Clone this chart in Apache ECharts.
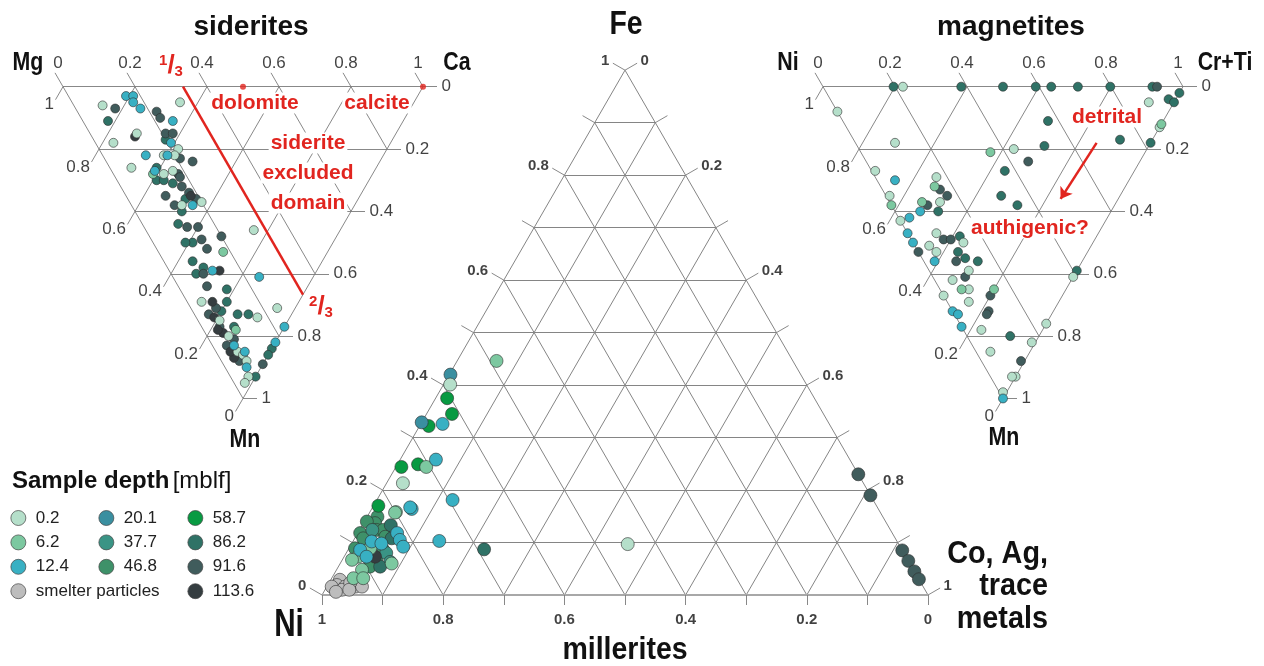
<!DOCTYPE html>
<html><head><meta charset="utf-8">
<script src="https://cdn.jsdelivr.net/npm/echarts@6/dist/echarts.min.js"></script>
<style>html,body{margin:0;padding:0;background:#fff}#c{width:1264px;height:666px}</style>
</head><body><div id="c"></div>
<script>
// ---------------- DATA ----------------
const depthNames = ['0.2','6.2','12.4','20.1','37.7','46.8','58.7','86.2','91.6','113.6','smelter particles'];
const sideTickValues = [0, 0.2, 0.4, 0.6, 0.8, 1];
const centerTickValues = [0, 0.1, 0.2, 0.3, 0.4, 0.5, 0.6, 0.7, 0.8, 0.9, 1];
const centerLabelValues = [0, 0.2, 0.4, 0.6, 0.8, 1];
const sideGridSteps = [0.2, 0.4, 0.6, 0.8];
const centerGridSteps = [0.1, 0.2, 0.3, 0.4, 0.5, 0.6, 0.7, 0.8, 0.9];

// siderites: [Ca, Mn, depth index]  (Mg = 1 - Ca - Mn)
const sideritePoints = [
 [0.16,0.03,2],[0.18,0.03,2],[0.17,0.05,2],[0.18,0.07,2],[0.08,0.06,0],[0.11,0.07,8],[0.07,0.11,7],
 [0.22,0.08,8],[0.22,0.10,8],[0.30,0.05,0],[0.25,0.11,2],[0.13,0.15,0],[0.12,0.16,9],[0.05,0.18,0],
 [0.21,0.15,8],[0.23,0.15,8],[0.20,0.17,7],[0.21,0.18,2],[0.22,0.20,0],[0.20,0.22,0],[0.21,0.23,8],
 [0.24,0.24,8],[0.12,0.22,2],[0.17,0.22,0],[0.18,0.22,2],[0.06,0.26,0],[0.13,0.26,7],[0.12,0.27,2],
 [0.11,0.28,1],[0.14,0.28,0],[0.17,0.27,0],[0.18,0.28,8],[0.18,0.29,8],[0.11,0.30,7],[0.13,0.30,7],
 [0.15,0.31,7],[0.17,0.32,8],[0.18,0.34,8],[0.18,0.35,9],[0.16,0.36,7],[0.19,0.36,8],[0.11,0.35,8],
 [0.12,0.38,8],[0.14,0.38,0],[0.17,0.38,2],[0.20,0.37,0],[0.13,0.40,7],[0.10,0.44,7],[0.12,0.45,8],
 [0.15,0.45,8],[0.14,0.49,8],[0.11,0.50,7],[0.09,0.50,7],[0.14,0.52,8],[0.20,0.48,8],[0.18,0.53,1],
 [0.30,0.46,0],[0.08,0.56,7],[0.10,0.58,7],[0.07,0.60,7],[0.09,0.60,8],[0.12,0.59,2],[0.14,0.59,9],
 [0.08,0.64,8],[0.13,0.65,7],[0.24,0.61,2],[0.04,0.69,0],[0.07,0.69,9],[0.11,0.69,7],[0.07,0.71,8],
 [0.08,0.72,7],[0.12,0.73,7],[0.15,0.73,7],[0.17,0.74,0],[0.24,0.71,0],[0.05,0.74,9],[0.06,0.75,0],
 [0.05,0.77,8],[0.05,0.79,9],[0.09,0.77,7],[0.09,0.78,1],[0.06,0.80,0],[0.07,0.81,8],[0.04,0.78,9],
 [0.06,0.83,2],[0.23,0.77,2],[0.18,0.82,2],[0.16,0.84,7],[0.14,0.86,7],[0.08,0.85,2],[0.06,0.85,0],
 [0.04,0.87,9],[0.07,0.86,0],[0.07,0.88,0],[0.05,0.88,8],[0.06,0.90,2],[0.11,0.89,8],[0.07,0.93,7],
 [0.05,0.93,0],[0.03,0.95,0],[0.04,0.83,8],[0.04,0.85,9],[0.04,0.73,8]
];

// magnetites: [Cr+Ti, Mn, depth index]  (Ni = 1 - CrTi - Mn)
const magnetitePoints = [
 [0.196,0,7],[0.222,0,0],[0.384,0,7],[0.50,0,7],[0.591,0,7],[0.634,0,7],[0.708,0,7],[0.798,0,7],
 [0.915,0,7],[0.928,0,8],[0.98,0.02,7],[0.94,0.04,7],[0.95,0.05,7],[0.88,0.05,0],[0.88,0.12,1],
 [0.87,0.13,0],[0.82,0.18,7],[0.74,0.17,7],[0.57,0.11,7],[0.52,0.19,7],[0.43,0.20,0],[0.36,0.21,1],
 [0.45,0.24,8],[0.37,0.27,7],[0.32,0.35,7],[0.35,0.38,7],[0.00,0.08,0],[0.11,0.18,0],[0.01,0.27,0],
 [0.05,0.30,2],[0.17,0.29,0],[0.15,0.32,1],[0.16,0.33,8],[0.17,0.35,8],[0.01,0.35,0],[0.00,0.38,1],
 [0.09,0.37,1],[0.14,0.37,0],[0.10,0.38,8],[0.12,0.40,7],[0.07,0.40,2],[0.03,0.42,2],[0.00,0.43,0],
 [0.00,0.47,2],[0.00,0.50,2],[0.00,0.53,8],[0.08,0.47,0],[0.09,0.49,8],[0.11,0.49,8],[0.14,0.48,7],
 [0.14,0.50,0],[0.04,0.51,0],[0.05,0.53,0],[0.11,0.53,7],[0.12,0.55,7],[0.09,0.56,8],[0.15,0.56,7],
 [0.03,0.56,2],[0.11,0.59,0],[0.09,0.61,8],[0.05,0.62,0],[0.06,0.65,1],[0.08,0.65,0],[0.06,0.69,0],
 [0.00,0.67,0],[0.00,0.72,2],[0.01,0.73,2],[0.00,0.77,2],[0.15,0.65,1],[0.13,0.67,8],[0.10,0.72,8],
 [0.09,0.73,8],[0.05,0.78,0],[0.12,0.80,7],[0.04,0.85,0],[0.41,0.59,7],[0.39,0.61,0],[0.24,0.76,0],
 [0.17,0.82,0],[0.11,0.88,8],[0.07,0.93,0],[0.06,0.93,0],[0.01,0.98,0],[0.00,1.00,2]
];

// millerites: [Co+Ag+trace, Fe, depth index]  (Ni = 1 - Co - Fe)
const milleritePoints = [
 [0.065,0.446,1],[0.002,0.420,3],[0.011,0.401,0],[0.019,0.375,6],[0.042,0.345,6],[0.000,0.329,3],
 [0.015,0.322,6],[0.036,0.326,2],[0.059,0.258,2],[0.034,0.249,6],[0.050,0.244,1],[0.009,0.244,6],
 [0.027,0.213,0],[0.125,0.181,2],[0.066,0.164,2],[0.043,0.158,1],[0.008,0.170,6],[0.142,0.103,2],
 [0.224,0.087,7],[0.456,0.097,0],[0.017,0.149,5],[0.047,0.133,7],[0.019,0.137,5],[0.028,0.124,5],
 [0.021,0.124,4],[0.004,0.140,5],[0.004,0.118,5],[0.039,0.124,5],[0.049,0.111,5],[0.061,0.108,7],
 [0.014,0.108,5],[0.065,0.118,2],[0.076,0.105,2],[0.088,0.092,2],[0.031,0.102,2],[0.049,0.098,2],
 [0.035,0.089,1],[0.058,0.086,5],[0.020,0.086,2],[0.010,0.089,5],[0.066,0.080,4],[0.037,0.073,2],
 [0.023,0.073,1],[0.016,0.067,1],[0.055,0.070,5],[0.051,0.073,9],[0.081,0.063,4],[0.069,0.054,7],
 [0.052,0.054,5],[0.085,0.060,1],[0.042,0.048,1],[0.036,0.032,1],[0.052,0.032,1],[0.062,0.167,2],
 [0.042,0.157,1],
 [0.015,0.029,10],[0.015,0.019,10],[0.030,0.016,10],[0.047,0.016,10],[0.058,0.016,10],[0.028,0.010,10],
 [0.008,0.016,10],[0.035,0.023,10],[0.040,0.010,10],[0.020,0.006,10],
 [0.77,0.23,8],[0.81,0.19,8],[0.915,0.085,8],[0.935,0.065,8],[0.955,0.045,8],[0.97,0.03,8]
];

// annotations (ternary coordinates)
const sideriteBoundary = [[1/3, 0], [1/3, 2/3]];      // Ca = 1/3 line, [Ca, Mn]
const sideriteRefMinerals = [[0.5, 0], [1, 0]];       // dolomite, calcite [Ca, Mn]
const magnetiteArrow = [[0.67, 0.18], [0.48, 0.36]];  // [CrTi, Mn]

// ---------------- STYLE ----------------
const depthColors = ['#b5dfca','#7cc8a0','#38b0c3','#3a8fa0','#3a9485','#3e9169','#089a42','#2f7266','#405c5c','#353d40','#bdbdbd'];
const RED = '#e1251f';
const SANS = "'Liberation Sans', Arial, sans-serif";
const H = Math.sqrt(3) / 2;
const tri = (c, v) => [c + v / 2, v * H];
const r1 = v => String(Math.round(v * 10) / 10);

const layouts = [
  {ox: 63,  oy: 86.7, s: 360, p: 0.1,  inverse: true},   // siderites
  {ox: 322, oy: 595,  s: 606, p: 0.07, inverse: false},  // millerites
  {ox: 823, oy: 86.7, s: 360, p: 0.1,  inverse: true}    // magnetites
];

const grid = layouts.map(L => ({
  left: L.ox - L.p * L.s, width: (1 + 2 * L.p) * L.s,
  top: L.inverse ? L.oy - L.p * L.s : L.oy - (H + L.p) * L.s,
  height: (H + 2 * L.p) * L.s
}));
const xAxis = layouts.map((L, i) => ({type: 'value', gridIndex: i, min: -L.p, max: 1 + L.p, show: false}));
const yAxis = layouts.map((L, i) => ({type: 'value', gridIndex: i, min: -L.p, max: H + L.p, inverse: L.inverse, show: false}));

const series = [];
function segSeries(i, segs, color, width, z) {
  series.push({type: 'lines', coordinateSystem: 'cartesian2d', xAxisIndex: i, yAxisIndex: i, silent: true, z: z || 1,
    polyline: false, symbol: 'none', lineStyle: {color, width, opacity: 1, type: 'solid'},
    data: segs.map(s => ({coords: s}))});
}
function gridSegs(steps) {
  const out = [];
  steps.forEach(f => {
    out.push([tri(0, f), tri(1 - f, f)]);
    out.push([tri(f, 0), tri(f, 1 - f)]);
    out.push([tri(1 - f, 0), tri(0, 1 - f)]);
  });
  return out;
}
function dirData(i, dx, dy) { return layouts[i].inverse ? [dx, dy] : [dx, -dy]; }
function addv(p, d, len) { return [p[0] + d[0] * len, p[1] + d[1] * len]; }

function axisParts(i, spec) {
  const L = layouts[i];
  const segs = [], labels = [];
  spec.forEach(side => {
    const d = dirData(i, side.dir[0], side.dir[1]);
    const len = side.len / L.s;
    side.values.forEach(v => {
      const P = side.point(v);
      const E = addv(P, d, len);
      segs.push([P, E]);
      if (side.labelValues.some(x => Math.abs(x - v) < 1e-6)) {
        labels.push({value: E, label: Object.assign({show: true, formatter: side.text(v)}, side.label)});
      }
    });
  });
  segSeries(i, segs, '#7a7a7a', 0.9);
  series.push({type: 'scatter', xAxisIndex: i, yAxisIndex: i, silent: true, symbolSize: 1,
    itemStyle: {color: 'rgba(0,0,0,0)'}, data: labels, z: 5,
    label: {color: '#111', fontFamily: SANS, fontSize: spec.font.size, fontWeight: spec.font.weight}});
}

[0, 2].forEach(i => {
  segSeries(i, gridSegs(sideGridSteps), '#7a7a7a', 0.9);
  segSeries(i, [[tri(0,0), tri(1,0)], [tri(1,0), tri(0,1)], [tri(0,1), tri(0,0)]], '#7a7a7a', 0.9);
  const spec = [
    {values: sideTickValues, labelValues: sideTickValues, point: v => tri(v, 0), dir: [-0.5, -0.866], len: 16,
     text: v => r1(v), label: {position: 'top', distance: 1, offset: [3, 0]}},
    {values: sideTickValues, labelValues: sideTickValues, point: v => tri(1 - v, v), dir: [1, 0], len: 14,
     text: v => r1(v), label: {position: 'right', distance: 4}},
    {values: sideTickValues, labelValues: sideTickValues, point: v => tri(0, v), dir: [-0.5, 0.866], len: 15,
     text: v => r1(1 - v), label: {position: 'left', distance: 1, offset: [0, 5]}}
  ];
  spec.font = {size: 17, weight: 'normal'};
  axisParts(i, spec);
});

segSeries(1, gridSegs(centerGridSteps), '#858585', 1);
segSeries(1, [[tri(1,0), tri(0,1)], [tri(0,1), tri(0,0)]], '#858585', 1);
segSeries(1, [[tri(0,0), tri(1,0)]], '#a8a8a8', 2);
(function () {
  const spec = [
    {values: centerTickValues, labelValues: centerLabelValues, point: v => tri(v, 0), dir: [0, 1], len: 10,
     text: v => r1(1 - v), label: {position: 'bottom', distance: 7}},
    {values: centerTickValues, labelValues: centerLabelValues, point: v => tri(1 - v, v), dir: [0.866, -0.5], len: 14,
     text: v => r1(1 - v), label: {position: 'right', distance: 3, offset: [0, -2]}},
    {values: centerTickValues, labelValues: centerLabelValues, point: v => tri(0, v), dir: [-0.866, -0.5], len: 14,
     text: v => r1(v), label: {position: 'left', distance: 3, offset: [0, -2]}}
  ];
  spec.font = {size: 15, weight: 'bold'};
  axisParts(1, spec);
})();

segSeries(0, [sideriteBoundary.map(p => tri(p[0], p[1]))], RED, 2.5, 4);
series.push({type: 'scatter', xAxisIndex: 0, yAxisIndex: 0, silent: true, symbolSize: 6, z: 4,
  itemStyle: {color: RED}, data: sideriteRefMinerals.map(p => tri(p[0], p[1]))});
series.push({type: 'lines', coordinateSystem: 'cartesian2d', xAxisIndex: 2, yAxisIndex: 2, silent: true, z: 6,
  symbol: ['none', 'arrow'], symbolSize: 11, lineStyle: {color: RED, width: 2.5, opacity: 1},
  data: [{coords: magnetiteArrow.map(p => tri(p[0], p[1]))}]});

function pointSeries(i, pts, size, order) {
  order.forEach(d => {
    const data = pts.filter(p => p[2] === d).map(p => tri(p[0], p[1]));
    if (!data.length) return;
    series.push({type: 'scatter', name: depthNames[d], xAxisIndex: i, yAxisIndex: i, symbolSize: size, z: 3,
      itemStyle: {color: depthColors[d], borderColor: '#2e2e2e', borderWidth: 0.6, opacity: 1}, data});
  });
}
pointSeries(0, sideritePoints, 9, [7, 8, 9, 0, 1, 2]);
pointSeries(2, magnetitePoints, 9, [7, 8, 9, 0, 1, 2]);
pointSeries(1, milleritePoints, 13, [10, 5, 4, 7, 9, 6, 3, 1, 0, 2, 8]);

// ---------------- TEXT ----------------
function T(text, x, y, size, o, sx) {
  return {type: 'text', x, y, z: 100, silent: true, scaleX: sx || 1,
    style: Object.assign({text, fontSize: size, fontWeight: 'bold', fontFamily: SANS, fill: '#111', align: 'center', verticalAlign: 'middle'}, o || {})};
}
const redBox = {fill: RED, backgroundColor: '#fff', padding: [0, 2]};
const frac = (a, b) => ({text: '{n|' + a + '}{s|/}{d|' + b + '}', fill: RED,
  rich: {n: {fontSize: 15, fontWeight: 'bold', fill: RED, verticalAlign: 'top', fontFamily: SANS},
         s: {fontSize: 26, fontWeight: 'bold', fill: RED, fontFamily: SANS},
         d: {fontSize: 15, fontWeight: 'bold', fill: RED, verticalAlign: 'bottom', fontFamily: SANS}}});
const NW = 0.82;
const graphics = [
  T('siderites', 251, 27, 28),
  T('magnetites', 1011, 27, 28),
  T('Fe', 626, 25, 33, null, 0.86),
  T('millerites', 625, 650, 31, null, 0.92),
  T('Ni', 289, 626, 38, null, 0.78),
  T('Co, Ag,', 1048, 554, 32, {align: 'right'}, 0.9),
  T('trace', 1048, 586, 32, {align: 'right'}, 0.9),
  T('metals', 1048, 619, 32, {align: 'right'}, 0.9),
  T('Mg', 28, 63, 26, null, NW),
  T('Ca', 457, 63, 26, null, NW),
  T('Mn', 245, 440, 26, null, NW),
  T('Ni', 788, 63, 26, null, NW),
  T('Cr+Ti', 1225, 63, 26, null, NW),
  T('Mn', 1004, 438, 26, null, NW),
  T('dolomite', 255, 103, 21, redBox),
  T('calcite', 377, 103, 21, redBox),
  T('siderite', 308, 143, 21, redBox),
  T('excluded', 308, 173, 21, redBox),
  T('domain', 308, 203, 21, redBox),
  T('detrital', 1107, 117, 21, redBox),
  T('authigenic?', 1030, 228, 21, redBox),
  T('', 171, 66, 15, frac(1, 3)),
  T('', 321, 307, 15, frac(2, 3)),
  {type: 'text', x: 12, y: 481, z: 100, silent: true,
   style: {text: '{b|Sample depth} {r|[mblf]}', align: 'left', verticalAlign: 'middle',
     rich: {b: {fontSize: 24, fontWeight: 'bold', fontFamily: SANS, fill: '#111'},
            r: {fontSize: 24, fontWeight: 'normal', fontFamily: SANS, fill: '#111'}}}}
];

// ---------------- LEGEND ----------------
const legendCols = [
  {data: ['0.2', '6.2', '12.4', 'smelter particles'], left: 10.5},
  {data: ['20.1', '37.7', '46.8'], left: 98.5},
  {data: ['58.7', '86.2', '91.6', '113.6'], left: 187.5}
];
const legend = legendCols.map(c => ({
  data: c.data.map(n => ({name: n, icon: 'circle'})), left: c.left, top: 509.5, orient: 'vertical',
  itemWidth: 15, itemHeight: 15, itemGap: 7.4, padding: 0, selectedMode: false,
  itemStyle: {borderColor: '#444', borderWidth: 0.7},
  textStyle: {fontSize: 17, color: '#222', fontFamily: SANS, lineHeight: 15, padding: [0, 0, 0, 5]}
}));

const chart = echarts.init(document.getElementById('c'), null, {renderer: 'canvas'});
chart.setOption({animation: false, backgroundColor: '#fff', grid, xAxis, yAxis, series, legend, graphic: {elements: graphics}});
</script></body></html>
